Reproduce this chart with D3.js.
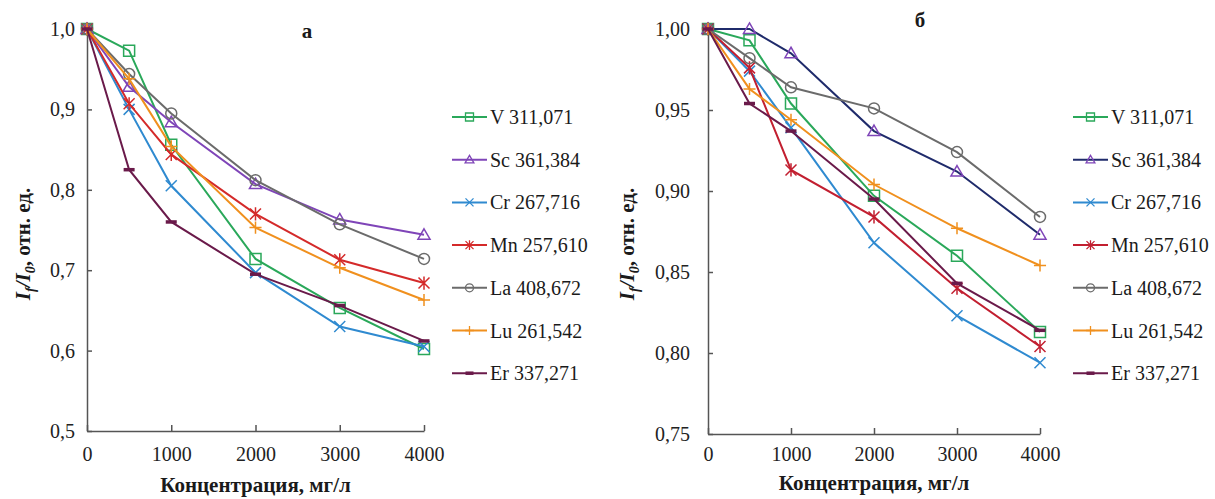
<!DOCTYPE html>
<html>
<head>
<meta charset="utf-8">
<script src="https://cdn.jsdelivr.net/npm/d3@7"></script>
<style>
body { margin: 0; background: #fff; }
</style>
</head>
<body>
<script>
// concentrations, mg/l
var conc = [0, 500, 1000, 2000, 3000, 4000];
var names = ["V 311,071", "Sc 361,384", "Cr 267,716", "Mn 257,610", "La 408,672", "Lu 261,542", "Er 337,271"];

// panel a
var aV  = [1.0, 0.973, 0.856, 0.714, 0.653, 0.602];
var aSc = [1.0, 0.928, 0.884, 0.807, 0.763, 0.744];
var aCr = [1.0, 0.900, 0.805, 0.697, 0.630, 0.605];
var aMn = [1.0, 0.907, 0.844, 0.770, 0.713, 0.684];
var aLa = [1.0, 0.944, 0.895, 0.812, 0.757, 0.714];
var aLu = [1.0, 0.938, 0.854, 0.753, 0.703, 0.663];
var aEr = [1.0, 0.825, 0.760, 0.695, 0.656, 0.612];

// panel b
var bV  = [1.0, 0.993, 0.954, 0.897, 0.860, 0.813];
var bSc = [1.0, 1.000, 0.985, 0.937, 0.912, 0.873];
var bCr = [1.0, 0.974, 0.939, 0.868, 0.823, 0.794];
var bMn = [1.0, 0.976, 0.913, 0.884, 0.840, 0.804];
var bLa = [1.0, 0.982, 0.964, 0.951, 0.924, 0.884];
var bLu = [1.0, 0.963, 0.944, 0.904, 0.877, 0.854];
var bEr = [1.0, 0.954, 0.937, 0.895, 0.843, 0.814];

var yTicksA = [0.5, 0.6, 0.7, 0.8, 0.9, 1.0];
var yTicksB = [0.75, 0.80, 0.85, 0.90, 0.95, 1.00];
var xTicks = [0, 1000, 2000, 3000, 4000];

var markers = ["square", "triangle", "x", "star", "circle", "plus", "dash"];
var lineColorsA = ["#2aa85a", "#7f45b8", "#2f8ad0", "#d42a2a", "#6b6b6b", "#f0901e", "#6a1a4a"];
var lineColorsB = ["#2aa85a", "#1f2b6b", "#2f8ad0", "#c21f30", "#6b6b6b", "#f0901e", "#6a1a4a"];
var markColorsB = ["#2aa85a", "#7f45b8", "#2f8ad0", "#c21f30", "#6b6b6b", "#f0901e", "#6a1a4a"];

var serif = "'Liberation Serif', 'Times New Roman', 'DejaVu Serif', serif";

var svg = d3.select("body").append("svg")
	.attr("width", 1215)
	.attr("height", 499)
	.style("font-family", serif);

// marker shapes around 0,0
function markerPath(type, s) {
	var h = s / 2;
	switch (type) {
		case "square": return "M" + (-h) + "," + (-h) + "h" + s + "v" + s + "h" + (-s) + "Z";
		case "triangle": return "M0," + (-h * 1.1) + "L" + (h * 1.1) + "," + (h * 0.8) + "L" + (-h * 1.1) + "," + (h * 0.8) + "Z";
		case "x": return "M" + (-h) + "," + (-h) + "L" + h + "," + h + "M" + (-h) + "," + h + "L" + h + "," + (-h);
		case "star": return "M" + (-h) + "," + (-h) + "L" + h + "," + h + "M" + (-h) + "," + h + "L" + h + "," + (-h) + "M0," + (-h * 1.2) + "V" + (h * 1.2);
		case "circle": return d3.arc()({innerRadius: 0, outerRadius: h, startAngle: 0, endAngle: 2 * Math.PI});
		case "plus": return "M" + (-h * 1.1) + ",0H" + (h * 1.1) + "M0," + (-h * 1.1) + "V" + (h * 1.1);
		case "dash": return "M" + (-h) + ",0H" + h;
	}
}

function drawPanel(opt) {
	var x = d3.scaleLinear().domain([0, 4000]).range(opt.xr);
	var y = d3.scaleLinear().domain(opt.yd).range(opt.yr);
	var fmt = function(d) { return d3.format(opt.fmt)(d).replace(".", ","); };

	var g = svg.append("g");

	// axes
	var yAxis = g.append("g")
		.attr("transform", "translate(" + opt.xr[0] + ",0)")
		.call(d3.axisLeft(y).tickValues(opt.yTicks).tickFormat(fmt).tickSizeInner(-5).tickSizeOuter(0).tickPadding(opt.yPad));
	var xAxis = g.append("g")
		.attr("transform", "translate(0," + opt.yr[0] + ")")
		.call(d3.axisBottom(x).tickValues(xTicks).tickFormat(d3.format("d")).tickSizeInner(-6).tickSizeOuter(0).tickPadding(opt.xPad));
	[yAxis, xAxis].forEach(function(a) {
		a.attr("font-family", null);
		a.selectAll("path, line").attr("stroke", "#555").attr("stroke-width", 1.5);
		a.selectAll("text").style("font-size", "20px").style("font-family", serif).attr("fill", "#222");
	});

	// lines and markers
	opt.series.forEach(function(vals, i) {
		var pts = conc.map(function(c, j) { return [c, vals[j]]; });
		g.append("path")
			.attr("d", d3.line().x(function(d) { return x(d[0]); }).y(function(d) { return y(d[1]); })(pts))
			.attr("fill", "none")
			.attr("stroke", opt.lineColors[i])
			.attr("stroke-width", 2);
		g.selectAll(".m" + i)
			.data(pts)
			.enter()
			.append("path")
			.attr("transform", function(d) { return "translate(" + x(d[0]) + "," + y(d[1]) + ")"; })
			.attr("d", markerPath(markers[i], 11))
			.attr("fill", "none")
			.attr("stroke", opt.markColors[i])
			.attr("stroke-width", markers[i] == "dash" ? 3.5 : 1.5);
	});

	// panel letter
	g.append("text")
		.attr("x", opt.letter[1])
		.attr("y", opt.letter[2])
		.attr("text-anchor", "middle")
		.attr("fill", "#1a1a1a")
		.style("font-size", "21px")
		.style("font-weight", "bold")
		.text(opt.letter[0]);

	// x axis title
	g.append("text")
		.attr("x", (opt.xr[0] + opt.xr[1]) / 2)
		.attr("y", opt.xTitleY)
		.attr("text-anchor", "middle")
		.attr("fill", "#1a1a1a")
		.style("font-size", "21px")
		.style("font-weight", "bold")
		.text("Концентрация, мг/л");

	// y axis title
	var yt = g.append("text")
		.attr("transform", "translate(" + opt.yTitleX + ",244) rotate(-90)")
		.attr("text-anchor", "middle")
		.attr("fill", "#1a1a1a")
		.style("font-size", "21px")
		.style("font-weight", "bold");
	yt.append("tspan").style("font-style", "italic").text("I");
	yt.append("tspan").style("font-style", "italic").style("font-size", "14px").attr("dy", 5).text("f");
	yt.append("tspan").style("font-style", "italic").attr("dy", -5).text("/I");
	yt.append("tspan").style("font-style", "italic").style("font-size", "14px").attr("dy", 5).text("0");
	yt.append("tspan").attr("dy", -5).text(", отн. ед.");

	// legend
	var lg = g.append("g");
	names.forEach(function(n, i) {
		var ly = 117 + i * 42.7;
		var lx = opt.legendX;
		lg.append("line")
			.attr("x1", lx).attr("x2", lx + 35)
			.attr("y1", ly).attr("y2", ly)
			.attr("stroke", opt.lineColors[i])
			.attr("stroke-width", 2);
		lg.append("path")
			.attr("transform", "translate(" + (lx + 17.5) + "," + ly + ")")
			.attr("d", markerPath(markers[i], 8))
			.attr("fill", "none")
			.attr("stroke", opt.markColors[i])
			.attr("stroke-width", markers[i] == "dash" ? 3.5 : 1.3);
		lg.append("text")
			.attr("x", lx + 38)
			.attr("y", ly + 7)
			.attr("fill", "#1a1a1a")
			.style("font-size", "20px")
			.text(n);
	});
}

drawPanel({
	xr: [87, 424], yd: [0.5, 1.0], yr: [431, 29], yTicks: yTicksA, fmt: ".1f", yPad: 12, xPad: 16,
	series: [aV, aSc, aCr, aMn, aLa, aLu, aEr],
	lineColors: lineColorsA, markColors: lineColorsA,
	letter: ["а", 307, 38], xTitleY: 492, yTitleX: 30, legendX: 452
});

drawPanel({
	xr: [708, 1040], yd: [0.75, 1.0], yr: [434, 29], yTicks: yTicksB, fmt: ".2f", yPad: 18, xPad: 13,
	series: [bV, bSc, bCr, bMn, bLa, bLu, bEr],
	lineColors: lineColorsB, markColors: markColorsB,
	letter: ["б", 920, 27], xTitleY: 490, yTitleX: 634, legendX: 1073
});
</script>
</body>
</html>
